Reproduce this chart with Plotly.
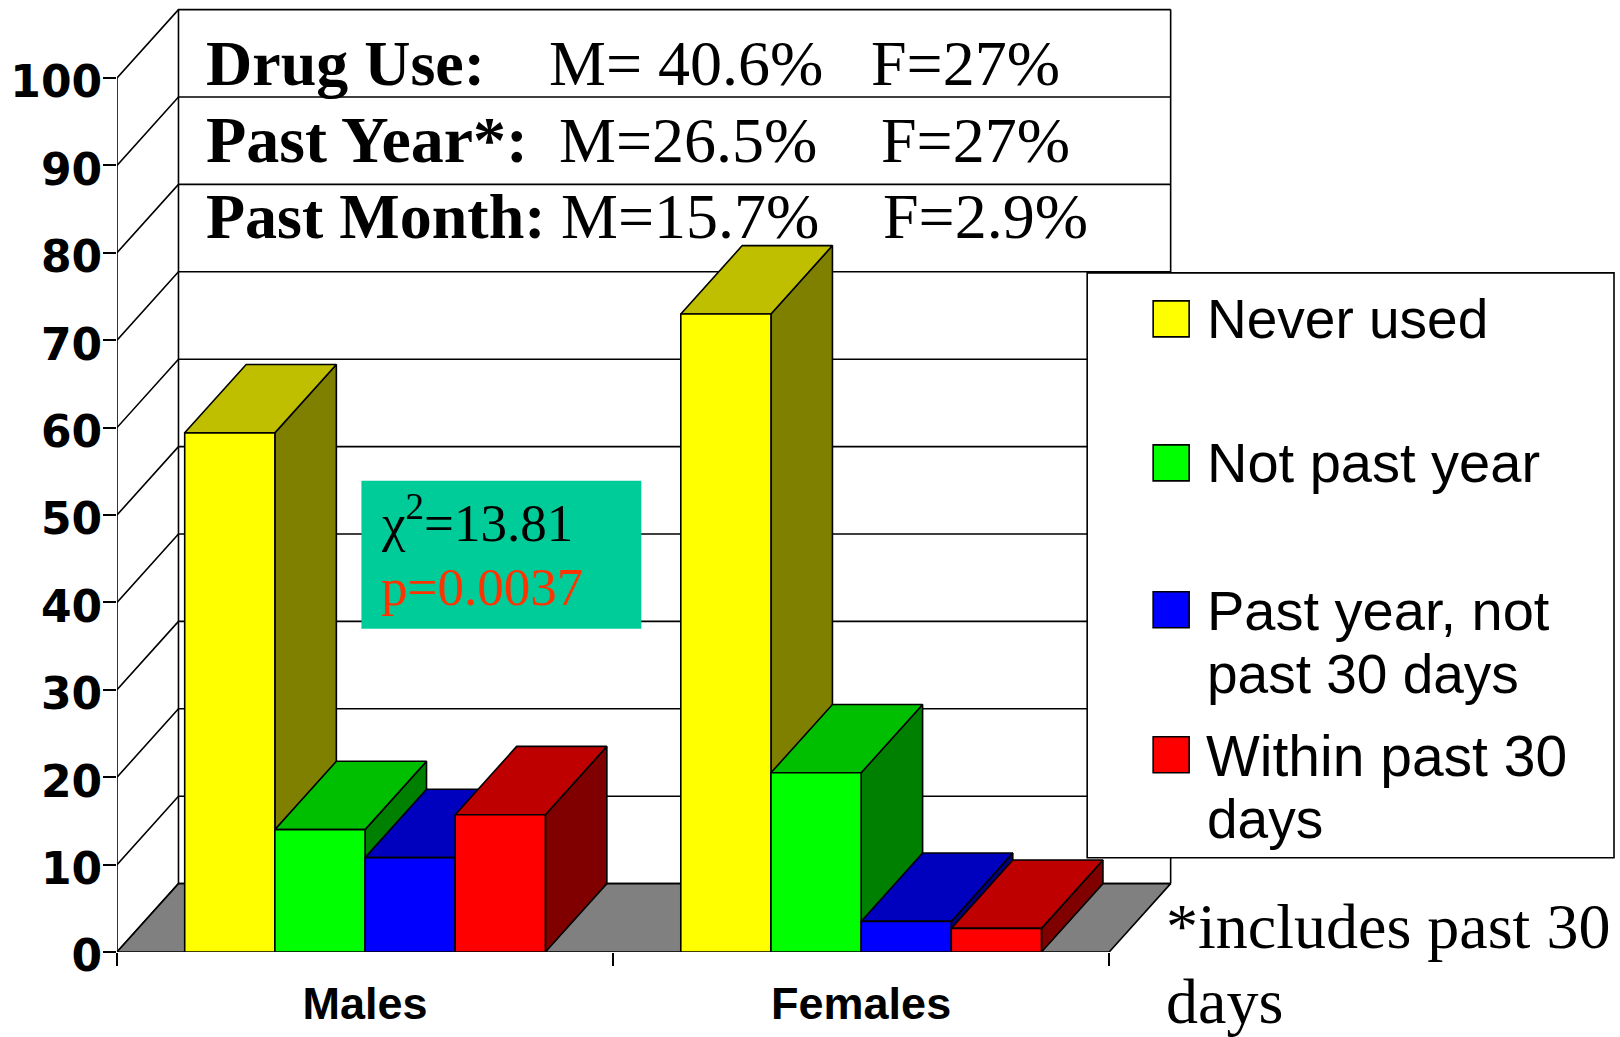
import plotly.graph_objects as go

categories = ["Males", "Females"]
series_names = ["Never used", "Not past year", "Past year, not past 30 days", "Within past 30 days"]
never_used = [59.4, 73.0]
not_past_year = [14.0, 20.5]
past_year = [10.8, 3.5]
past_month = [15.7, 2.7]
y_ticks = [0, 10, 20, 30, 40, 50, 60, 70, 80, 90, 100]

face_front = ["#FFFF00", "#00FF00", "#0000FF", "#FF0000"]
face_top = ["#BFBF00", "#00BF00", "#0000BF", "#BF0000"]
face_side = ["#808000", "#008000", "#000080", "#800000"]

W, H = 1620, 1037
X0, X1 = 116.5, 1109.0      # pixel span of the two categories
Y0, Y100 = 952.3, 78.0      # pixel positions of value 0 and value 100
PX_X = (X1 - X0) / 2
PX_Y = (Y0 - Y100) / 100
DX = 61.5 / PX_X            # depth of the pseudo-3D projection, in data units
DY = 68.4 / PX_Y
BAR_W = 90.2 / PX_X
LW = 1.6

fig = go.Figure()


def poly(xs, ys, fill, z):
    fig.add_trace(go.Scatter(x=xs, y=ys, mode="lines", fill="toself", fillcolor=fill,
                             line=dict(color="black", width=LW), zorder=z,
                             hoverinfo="skip", showlegend=False))


def lines(xs, ys, z=-5):
    fig.add_trace(go.Scatter(x=xs, y=ys, mode="lines", line=dict(color="black", width=LW),
                             zorder=z, hoverinfo="skip", showlegend=False))


L, R = -0.5, 1.5
# floor
poly([L, R, R + DX, L + DX, L], [0, 0, DY, DY, 0], "#808080", -4)
# walls and gridlines
gx, gy = [], []
for t in y_ticks:
    gx += [L, L + DX, R + DX, None]
    gy += [t, t + DY, t + DY, None]
gx += [L, L, None, L + DX, L + DX, None, R + DX, R + DX]
gy += [0, 100, None, DY, 100 + DY, None, DY, 100 + DY]
lines(gx, gy)

all_vals = [never_used, not_past_year, past_year, past_month]
for s, vals in enumerate(all_vals):
    off = (s - 2) * BAR_W
    for c, v in enumerate(vals):
        a, b = c + off, c + off + BAR_W
        poly([b, b + DX, b + DX, b, b], [0, DY, v + DY, v, 0], face_side[s], 2 * s)
        poly([a, b, b + DX, a + DX, a], [v, v, v + DY, v + DY, v], face_top[s], 2 * s)
    fig.add_trace(go.Bar(x=[0, 1], y=vals, name=series_names[s], width=BAR_W, offset=off,
                         marker=dict(color=face_front[s], line=dict(color="black", width=LW)),
                         zorder=2 * s + 1, showlegend=False))


def px(x):
    return (x - X0) / (W - X0)


def py(y):
    return 1 - y / Y0


def rect(x0, y0, x1, y1, fill, line=None):
    fig.add_shape(type="rect", xref="paper", yref="paper", x0=px(x0), x1=px(x1), y0=py(y0), y1=py(y1),
                  fillcolor=fill, line=dict(color=line or fill, width=LW if line else 0), layer="above")


def text(x, base, s, size, fam="Liberation Serif", bold=False, color="black"):
    fig.add_annotation(xref="paper", yref="paper", x=px(x), y=py(base), xanchor="left", yanchor="bottom",
                       text=s, showarrow=False, borderpad=0, align="left",
                       yshift=-round(size * 0.29) + 4,
                       font=dict(family=fam, size=size, color=color, weight=700 if bold else 400))


# header text on the back wall
text(205, 85, "Drug Use:", 64, bold=True)
text(548, 85, "M= 40.6%", 64)
text(870, 85, "F=27%", 64)
text(205, 162, "Past Year*:", 66, bold=True)
text(558, 162, "M=26.5%", 64)
text(880, 162, "F=27%", 64)
text(205, 238, "Past Month:", 64, bold=True)
text(560, 238, "M=15.7%", 64)
text(882, 238, "F=2.9%", 64)

# statistics box
rect(361, 481, 641, 629, "#00CC99")
text(380, 542, "χ<sup>2</sup>=13.81", 53)
text(380, 606, "p=0.0037", 53, color="#FF3300")

# legend box
rect(1087, 273, 1614, 858, "white", "black")
swatch_tops = [301, 445, 592, 737]
for top, col in zip(swatch_tops, face_front):
    rect(1153, top, 1189, top + 36, col, "black")
text(1206, 339, "Never used", 55, "Liberation Sans")
text(1206, 483, "Not past year", 56, "Liberation Sans")
text(1206, 631, "Past year, not", 56, "Liberation Sans")
text(1206, 694, "past 30 days", 55, "Liberation Sans")
text(1205, 776, "Within past 30", 57, "Liberation Sans")
text(1206, 839, "days", 55, "Liberation Sans")

# footnote
text(1165, 948, "*includes past 30", 64)
text(1165, 1023, "days", 64)

fig.update_layout(
    width=W, height=H, autosize=False,
    margin=dict(l=X0, r=0, t=0, b=H - Y0, pad=0),
    paper_bgcolor="white", plot_bgcolor="white",
    barmode="overlay", showlegend=False,
    xaxis=dict(range=[L, R + (W - X1) / PX_X], tickmode="array", tickvals=[0, 1], ticktext=categories,
               ticks="outside", ticklen=12, tickcolor="rgba(0,0,0,0)", showgrid=False, zeroline=False,
               showline=False, automargin=False,
               tickfont=dict(family="Liberation Sans", size=45, color="black", weight=700),
               minor=dict(tickmode="array", tickvals=[-0.5, 0.5, 1.5], ticks="outside", ticklen=13,
                          tickwidth=LW, tickcolor="black", showgrid=False)),
    yaxis=dict(range=[0, Y0 / PX_Y], tickmode="array", tickvals=y_ticks,
               ticktext=[str(t) for t in y_ticks], ticks="outside", ticklen=13, tickwidth=LW, tickcolor="black",
               showgrid=False, zeroline=False, showline=False, automargin=False,
               ticklabelstandoff=-8, ticklabelshift=4,
               tickfont=dict(family="DejaVu Sans", size=44, color="black", weight=700)),
)

fig.write_html("out.html", post_script="document.body.style.margin='0';",
               config=dict(displayModeBar=False))
